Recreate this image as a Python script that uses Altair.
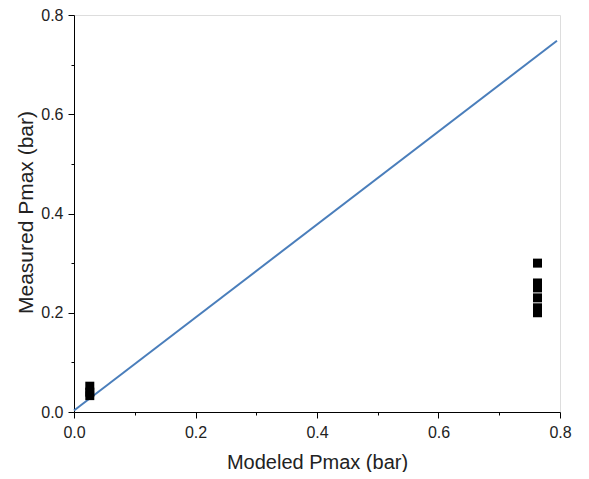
import altair as alt
import pandas as pd

# Data
line_x = [0.0, 0.795]
line_y = [0.003, 0.748]

pts_x = [0.026, 0.026, 0.026, 0.763, 0.763, 0.763, 0.763, 0.763, 0.763]
pts_y = [0.052, 0.040, 0.033, 0.300, 0.260, 0.250, 0.230, 0.210, 0.200]

tick_vals = [0.0, 0.1, 0.2, 0.3, 0.4, 0.5, 0.6, 0.7, 0.8]

line_df = pd.DataFrame({"x": line_x, "y": line_y})
pts_df = pd.DataFrame({"x": pts_x, "y": pts_y})

label_expr = "round(datum.value*10) % 2 == 0 ? format(datum.value, '.1f') : ''"
tick_size = {"expr": "round(datum.value*10) % 2 == 0 ? 6 : 3"}

FONT = "Liberation Sans"

x_axis = alt.Axis(
    values=tick_vals, labelExpr=label_expr, grid=False,
    tickSize=tick_size, tickColor="black", domainColor="black",
    labelFont=FONT, labelFontSize=16, labelColor="#222", labelPadding=6,
    labelFlush=False, labelOverlap=False,
    title="Modeled Pmax (bar)", titleFont=FONT, titleFontSize=20,
    titleFontWeight="normal", titleColor="#222", titleY=40, titleBaseline="top",
)
y_axis = alt.Axis(
    values=tick_vals, labelExpr=label_expr, grid=False,
    tickSize=tick_size, tickColor="black", domainColor="black",
    labelFont=FONT, labelFontSize=16, labelColor="#222", labelPadding=5,
    labelFlush=False, labelOverlap=False,
    title="Measured Pmax (bar)", titleFont=FONT, titleFontSize=21,
    titleFontWeight="normal", titleColor="#222", titleX=-48, titleY=197,
    titleBaseline="middle",
)

xs = alt.Scale(domain=[0, 0.8], nice=False, zero=False)
ys = alt.Scale(domain=[0, 0.8], nice=False, zero=False)

line = alt.Chart(line_df).mark_line(color="#4a7ebb", strokeWidth=2).encode(
    x=alt.X("x:Q", scale=xs, axis=x_axis),
    y=alt.Y("y:Q", scale=ys, axis=y_axis),
)

pts = alt.Chart(pts_df).mark_square(color="black", size=81, opacity=1).encode(
    x=alt.X("x:Q", scale=xs),
    y=alt.Y("y:Q", scale=ys),
)

chart = alt.layer(line, pts).properties(
    width=486, height=397,
    autosize=alt.AutoSizeParams(type="none"),
    padding={"left": 66, "top": 7, "right": 21, "bottom": 60},
).configure_view(stroke=None).configure(background="white")

chart.save("out.html", embed_options={"renderer": "svg", "actions": False})
